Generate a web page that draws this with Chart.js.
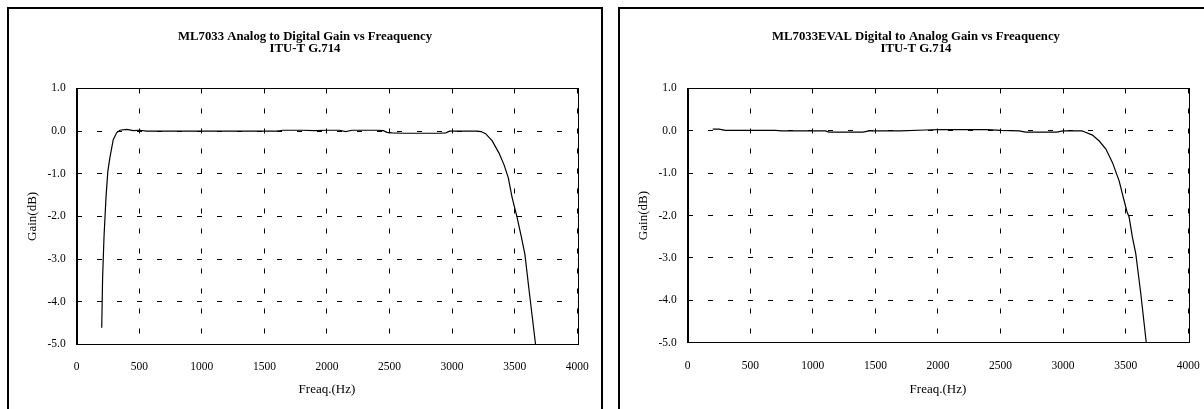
<!DOCTYPE html>
<html>
<head>
<meta charset="utf-8">
<script src="https://cdn.jsdelivr.net/npm/chart.js@4"></script>
<style>
  html, body { margin: 0; padding: 0; background: #fff; width: 1204px; height: 409px; overflow: hidden; }
  .box { position: absolute; top: 7px; width: 592px; height: 420px; border: 2px solid #000; background: #fff; }
  #boxA { left: 7px; }
  #boxB { left: 618px; }
  canvas { position: absolute; left: 0; top: 0; }
</style>
</head>
<body>
<div class="box" id="boxA"><canvas id="chartA" width="592" height="400"></canvas></div>
<div class="box" id="boxB"><canvas id="chartB" width="592" height="400"></canvas></div>
<script>
// ---- Data ----
const titleA = ['ML7033 Analog to Digital Gain vs Freaquency', 'ITU-T G.714'];
const titleB = ['ML7033EVAL Digital to Analog Gain vs Freaquency', 'ITU-T G.714'];
const xAxisTitle = 'Freaq.(Hz)';
const yAxisTitle = 'Gain(dB)';

// Analog -> Digital (left)
const adFreq = [200, 207, 218, 234, 249, 265, 292, 319, 345, 399, 452, 505, 558, 800, 1000, 1200, 1400, 1600, 1650, 1700, 1800, 1900, 2000, 2100, 2150, 2200, 2300, 2400, 2450, 2480, 2520, 2600, 2700, 2800, 2900, 2950, 2980, 3000, 3100, 3200, 3230, 3268, 3321, 3374, 3414, 3449, 3480, 3520, 3555, 3582, 3619, 3667];
const adGain = [-4.61, -3.44, -2.50, -1.56, -0.94, -0.63, -0.20, -0.04, 0.02, 0.04, 0.01, 0.02, 0.00, 0.00, 0.00, 0.00, 0.00, 0.00, 0.02, 0.02, 0.02, 0.01, 0.02, 0.02, -0.01, 0.02, 0.02, 0.02, 0.01, -0.03, -0.04, -0.05, -0.05, -0.05, -0.05, -0.04, 0.00, 0.00, 0.00, 0.00, -0.01, -0.06, -0.23, -0.51, -0.78, -1.09, -1.56, -2.03, -2.50, -2.89, -3.82, -5.00];

// Digital -> Analog (right)
const daFreq = [200, 250, 300, 400, 500, 600, 700, 750, 1000, 1100, 1130, 1250, 1400, 1450, 1500, 1700, 1900, 2000, 2200, 2400, 2500, 2650, 2700, 2800, 2950, 3000, 3100, 3150, 3169, 3235, 3289, 3342, 3395, 3448, 3488, 3510, 3528, 3554, 3581, 3621, 3665];
const daGain = [0.04, 0.04, 0.01, 0.01, 0.01, 0.01, 0.01, 0.00, 0.00, 0.00, -0.03, -0.03, -0.03, 0.00, 0.00, 0.00, 0.02, 0.03, 0.03, 0.03, 0.01, 0.00, -0.03, -0.03, -0.03, 0.00, 0.00, 0.00, -0.02, -0.10, -0.24, -0.43, -0.75, -1.18, -1.65, -1.90, -2.04, -2.51, -2.90, -3.84, -5.00];

const xMin = 0, xMax = 4000, xStep = 500;
const yMin = -5, yMax = 1, yStep = 1;

// ---- Chart construction ----
const frame = {
  id: 'frame',
  afterDatasetsDraw(chart) {
    const a = chart.chartArea, ctx = chart.ctx;
    ctx.save();
    ctx.strokeStyle = '#000';
    ctx.lineWidth = 1;
    ctx.setLineDash([]);
    ctx.strokeRect(Math.round(a.left) + 0.5, Math.round(a.top) + 0.5, Math.round(a.right - a.left), Math.round(a.bottom - a.top));
    ctx.restore();
  }
};

function pts(xs, ys) { return xs.map((x, i) => ({x: x, y: ys[i]})); }

function makeChart(id, title, xs, ys, xAxisHeight) {
  const serif = "'Liberation Serif', 'Times New Roman', serif";
  return new Chart(document.getElementById(id), {
    type: 'line',
    data: {
      datasets: [{
        data: pts(xs, ys),
        borderColor: '#000',
        borderWidth: 1.2,
        pointRadius: 0,
        tension: 0,
        fill: false
      }]
    },
    plugins: [frame],
    options: {
      responsive: false,
      animation: false,
      devicePixelRatio: 1,
      layout: { padding: 0 },
      plugins: {
        legend: { display: false },
        tooltip: { enabled: false },
        title: {
          display: true,
          text: title,
          color: '#000',
          font: { family: serif, size: 12.75, weight: 'bold', lineHeight: 0.94 },
          padding: { top: 21.5, bottom: 34 }
        }
      },
      scales: {
        x: {
          type: 'linear',
          min: xMin, max: xMax,
          afterFit(s) { s.height = xAxisHeight; s.paddingLeft = 0; s.paddingRight = 0; },
          ticks: { stepSize: xStep, color: '#000', padding: 16, maxRotation: 0,
                   font: { family: serif, size: 11.5 }, callback: v => String(v) },
          grid: { color: '#000', lineWidth: 1, drawTicks: false },
          border: { display: true, color: '#000', width: 1, dash: [5, 15] },
          title: { display: true, text: xAxisTitle, color: '#000',
                   font: { family: serif, size: 13 }, padding: { top: 0, bottom: 12 } }
        },
        y: {
          type: 'linear',
          min: yMin, max: yMax,
          afterFit(s) { s.width = 67.7; },
          ticks: { stepSize: yStep, color: '#000', padding: 11,
                   font: { family: serif, size: 11.5 }, callback: v => Number(v).toFixed(1) },
          grid: { color: '#000', lineWidth: 1, drawTicks: false },
          border: { display: true, color: '#000', width: 1, dash: [5, 15] },
          title: { display: true, text: yAxisTitle, color: '#000',
                   font: { family: serif, size: 13 }, padding: { top: 15.5, bottom: 0 } }
        },
        // empty right-hand spacer so the plot ends where the reference's does
        spacer: {
          type: 'linear',
          position: 'right',
          display: true,
          min: yMin, max: yMax,
          afterFit(s) { s.width = 23.8; },
          ticks: { display: false },
          grid: { display: false, drawOnChartArea: false },
          border: { display: false }
        }
      }
    }
  });
}

makeChart('chartA', titleA, adFreq, adGain, 64.7);
makeChart('chartB', titleB, daFreq, daGain, 66.3);
</script>
</body>
</html>
